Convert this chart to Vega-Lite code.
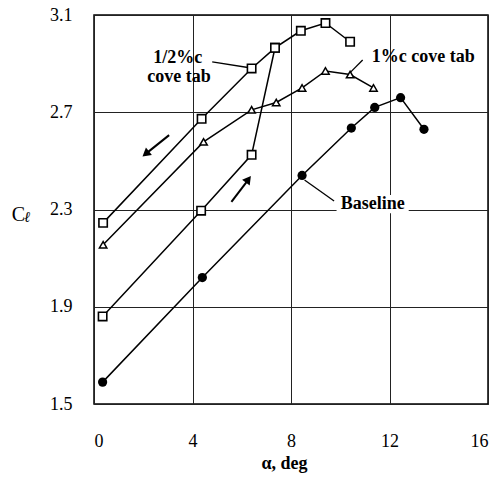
{
  "$schema": "https://vega.github.io/schema/vega-lite/v6.json",
  "autosize": "none",
  "width": 394,
  "height": 389,
  "padding": {"left": 94, "top": 15, "right": 10, "bottom": 74},
  "background": "white",
  "config": {
    "view": {"stroke": "black", "strokeWidth": 1.5},
    "font": "Liberation Serif",
    "axis": {
      "grid": true, "gridColor": "#222", "gridWidth": 1, "domain": false, "ticks": false,
      "labelFont": "Liberation Serif", "labelFontSize": 18, "labelColor": "black",
      "titleFont": "Liberation Serif", "titleColor": "black"
    }
  },
  "datasets": {
    "curves": [
      {"s": "base", "x": 0.35, "y": 1.59, "o": 1},
      {"s": "base", "x": 4.4, "y": 2.02, "o": 2},
      {"s": "base", "x": 8.45, "y": 2.44, "o": 3},
      {"s": "base", "x": 10.45, "y": 2.635, "o": 4},
      {"s": "base", "x": 11.4, "y": 2.72, "o": 5},
      {"s": "base", "x": 12.45, "y": 2.76, "o": 6},
      {"s": "base", "x": 13.4, "y": 2.63, "o": 7},
      {"s": "halfup", "x": 0.35, "y": 1.86, "o": 1},
      {"s": "halfup", "x": 4.35, "y": 2.295, "o": 2},
      {"s": "halfup", "x": 6.4, "y": 2.525, "o": 3},
      {"s": "halfup", "x": 7.35, "y": 2.965, "o": 4},
      {"s": "halfup", "x": 8.4, "y": 3.035, "o": 5},
      {"s": "halfup", "x": 9.4, "y": 3.067, "o": 6},
      {"s": "halfup", "x": 10.4, "y": 2.99, "o": 7},
      {"s": "halfdown", "x": 7.35, "y": 2.965, "o": 1},
      {"s": "halfdown", "x": 6.4, "y": 2.88, "o": 2},
      {"s": "halfdown", "x": 4.37, "y": 2.673, "o": 3},
      {"s": "halfdown", "x": 0.37, "y": 2.245, "o": 4},
      {"s": "one", "x": 0.37, "y": 2.155, "o": 1},
      {"s": "one", "x": 4.45, "y": 2.578, "o": 2},
      {"s": "one", "x": 6.4, "y": 2.71, "o": 3},
      {"s": "one", "x": 7.4, "y": 2.74, "o": 4},
      {"s": "one", "x": 8.45, "y": 2.8, "o": 5},
      {"s": "one", "x": 9.4, "y": 2.87, "o": 6},
      {"s": "one", "x": 10.4, "y": 2.855, "o": 7},
      {"s": "one", "x": 11.35, "y": 2.8, "o": 8}
    ],
    "leaders": [
      {"x": 4.8, "y": 2.907, "x2": 6.25, "y2": 2.884},
      {"x": 10.91, "y": 2.915, "x2": 10.42, "y2": 2.865},
      {"x": 8.55, "y": 2.421, "x2": 9.75, "y2": 2.335}
    ],
    "labels": [
      {"t": "1/2%c", "x": 3.4, "y": 2.923},
      {"t": "cove tab", "x": 3.45, "y": 2.845},
      {"t": "1%c cove tab", "x": 13.37, "y": 2.927},
      {"t": "Baseline", "x": 11.32, "y": 2.323}
    ],
    "arrows": [
      {"d": "down", "x": 3.05, "y": 2.606, "x2": 2.2, "y2": 2.537, "hx": 2.1, "hy": 2.529},
      {"d": "up", "x": 5.58, "y": 2.331, "x2": 6.2, "y2": 2.414, "hx": 6.27, "hy": 2.424}
    ]
  },
  "layer": [
    {
      "data": {"values": [{"x": 9.85, "x2": 12.78, "y": 2.285, "y2": 2.36}]},
      "mark": {"type": "rect", "color": "white"},
      "encoding": {
        "x": {"field": "x", "type": "quantitative", "scale": {"domain": [0, 16], "nice": false}, "axis": {"values": [0, 4, 8, 12, 16], "labelPadding": 28, "title": "α, deg", "titleFontSize": 18, "titleFontWeight": "bold", "titlePadding": 4, "titleX": 190}},
        "x2": {"field": "x2"},
        "y": {"field": "y", "type": "quantitative", "scale": {"domain": [1.5, 3.1], "nice": false, "zero": false}, "axis": {"values": [1.5, 1.9, 2.3, 2.7, 3.1], "format": ".1f", "labelPadding": 22, "title": "C", "titleAngle": 0, "titleFontSize": 20, "titleFontWeight": "normal", "titleAlign": "center", "titleBaseline": "alphabetic", "titleX": -76, "titleY": 205}},
        "y2": {"field": "y2"}
      }
    },
    {
      "data": {"name": "curves"},
      "mark": {"type": "line", "color": "black", "strokeWidth": 1.5},
      "encoding": {
        "x": {"field": "x", "type": "quantitative"},
        "y": {"field": "y", "type": "quantitative"},
        "detail": {"field": "s"},
        "order": {"field": "o", "type": "quantitative"}
      }
    },
    {
      "data": {"name": "curves"},
      "transform": [{"filter": "datum.s === 'base'"}],
      "mark": {"type": "point", "shape": "circle", "filled": true, "color": "black", "size": 85, "opacity": 1},
      "encoding": {"x": {"field": "x", "type": "quantitative"}, "y": {"field": "y", "type": "quantitative"}}
    },
    {
      "data": {"name": "curves"},
      "transform": [{"filter": "datum.s === 'halfup' || datum.s === 'halfdown'"}],
      "mark": {"type": "point", "shape": "square", "filled": true, "fill": "white", "stroke": "black", "strokeWidth": 1.6, "size": 70, "opacity": 1},
      "encoding": {"x": {"field": "x", "type": "quantitative"}, "y": {"field": "y", "type": "quantitative"}}
    },
    {
      "data": {"name": "curves"},
      "transform": [{"filter": "datum.s === 'one'"}],
      "mark": {"type": "point", "shape": "triangle-up", "filled": true, "fill": "white", "stroke": "black", "strokeWidth": 1.5, "size": 55, "opacity": 1},
      "encoding": {"x": {"field": "x", "type": "quantitative"}, "y": {"field": "y", "type": "quantitative"}}
    },
    {
      "data": {"name": "leaders"},
      "mark": {"type": "rule", "color": "black", "strokeWidth": 1.3},
      "encoding": {
        "x": {"field": "x", "type": "quantitative"}, "y": {"field": "y", "type": "quantitative"},
        "x2": {"field": "x2"}, "y2": {"field": "y2"}
      }
    },
    {
      "data": {"name": "arrows"},
      "mark": {"type": "rule", "color": "black", "strokeWidth": 2},
      "encoding": {
        "x": {"field": "x", "type": "quantitative"}, "y": {"field": "y", "type": "quantitative"},
        "x2": {"field": "x2"}, "y2": {"field": "y2"}
      }
    },
    {
      "data": {"name": "arrows"},
      "transform": [{"filter": "datum.d === 'down'"}],
      "mark": {"type": "point", "shape": "triangle-up", "filled": true, "color": "black", "size": 90, "angle": 231, "opacity": 1},
      "encoding": {"x": {"field": "hx", "type": "quantitative"}, "y": {"field": "hy", "type": "quantitative"}}
    },
    {
      "data": {"name": "arrows"},
      "transform": [{"filter": "datum.d === 'up'"}],
      "mark": {"type": "point", "shape": "triangle-up", "filled": true, "color": "black", "size": 90, "angle": 37, "opacity": 1},
      "encoding": {"x": {"field": "hx", "type": "quantitative"}, "y": {"field": "hy", "type": "quantitative"}}
    },
    {
      "data": {"name": "labels"},
      "mark": {"type": "text", "font": "Liberation Serif", "fontSize": 18, "fontWeight": "bold", "color": "black", "align": "center", "baseline": "middle"},
      "encoding": {"x": {"field": "x", "type": "quantitative"}, "y": {"field": "y", "type": "quantitative"}, "text": {"field": "t"}}
    },
    {
      "data": {"values": [{"t": "ℓ", "x": -2.72, "y": 2.27}]},
      "mark": {"type": "text", "font": "Liberation Serif", "fontSize": 15, "fontStyle": "italic", "color": "black", "align": "center", "baseline": "middle", "clip": false},
      "encoding": {"x": {"field": "x", "type": "quantitative"}, "y": {"field": "y", "type": "quantitative"}, "text": {"field": "t"}}
    }
  ]
}
